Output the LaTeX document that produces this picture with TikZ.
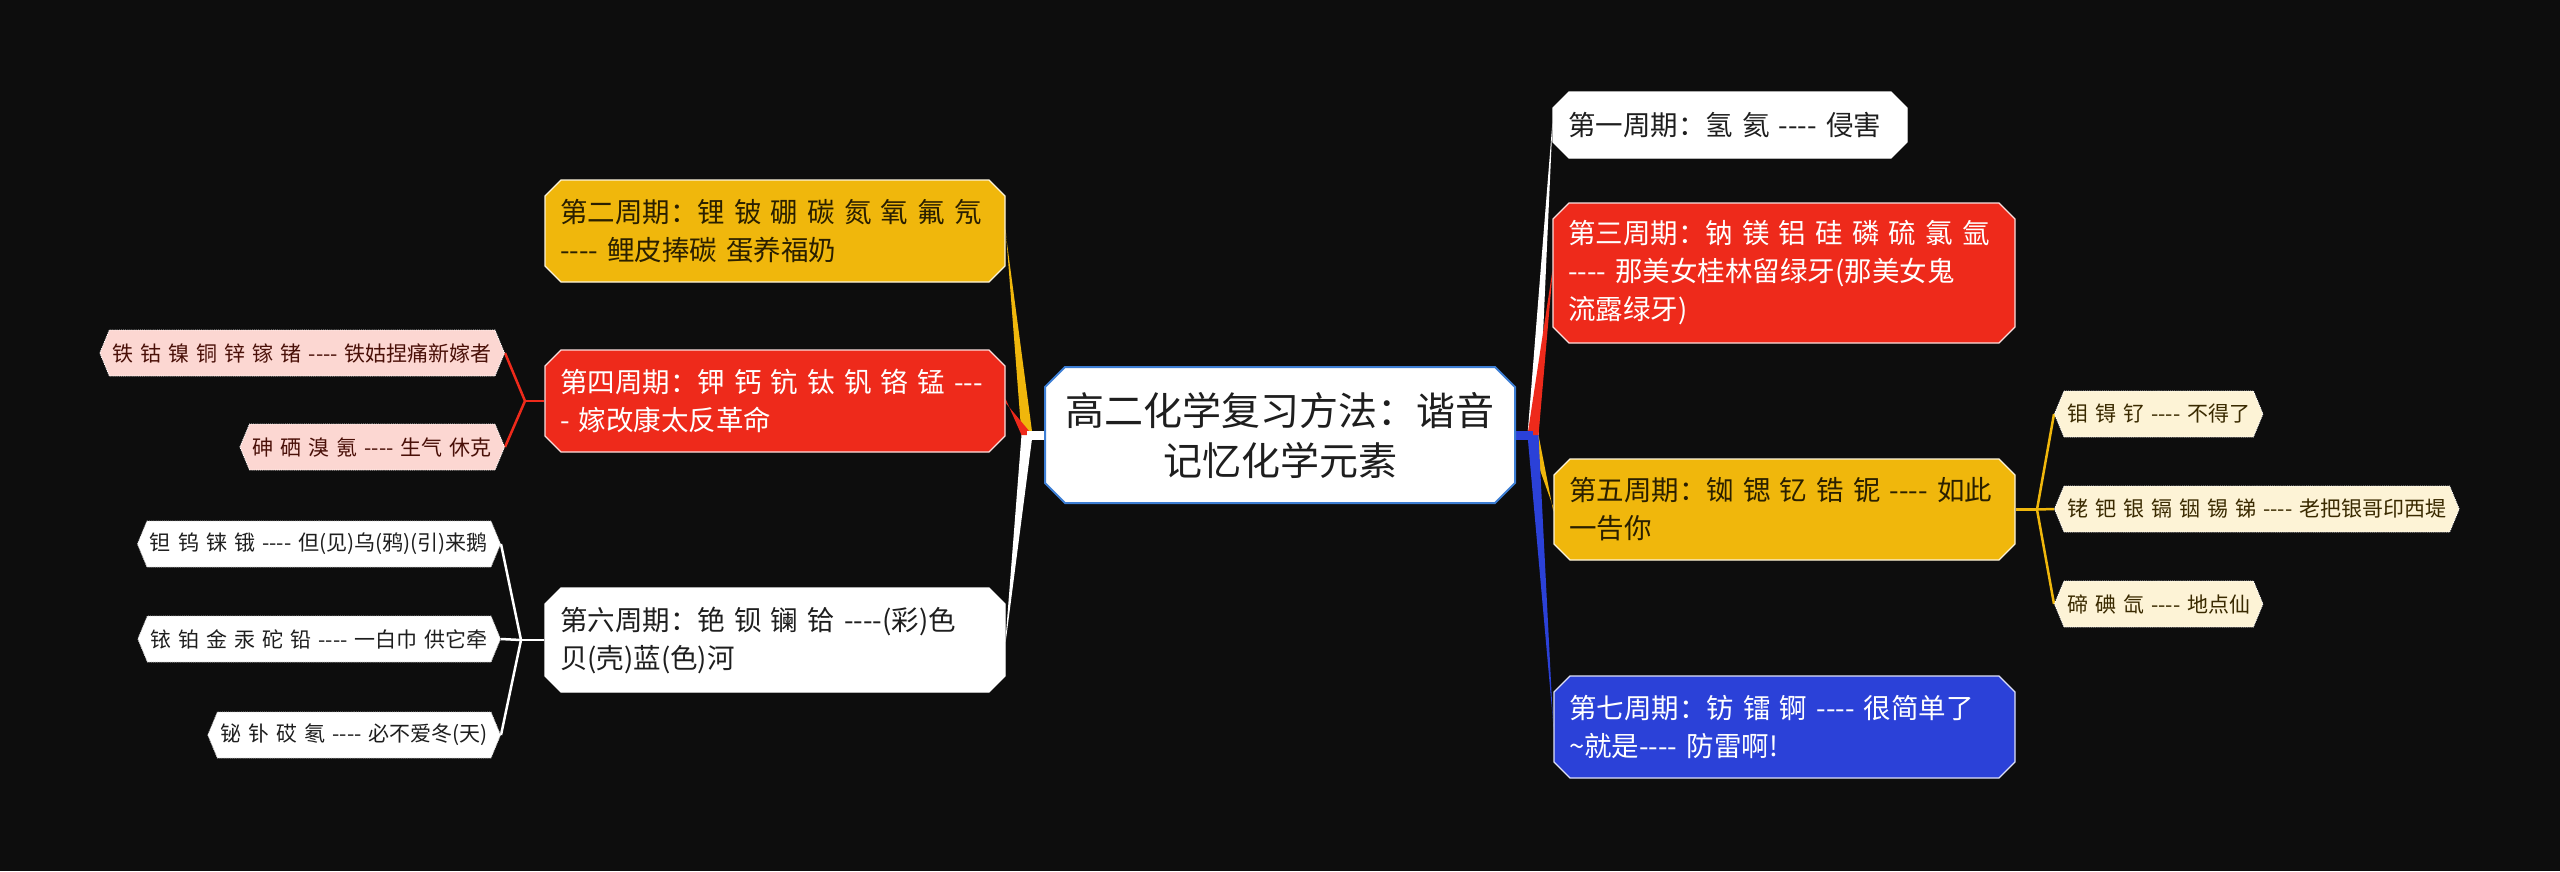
\documentclass[tikz,border=0pt]{standalone}
\usepackage{fontspec}
\setmainfont[WordSpace=1.5,Ligatures=TeXOff]{Noto Sans CJK SC}
\usetikzlibrary{shapes.misc,shapes.symbols,calc,backgrounds}

\definecolor{bg}{HTML}{0D0D0D}
\definecolor{cY}{HTML}{F0B70C}
\definecolor{cR}{HTML}{EE2A1B}
\definecolor{cB}{HTML}{2B41D8}
\definecolor{cC}{HTML}{3D7ED4}
\definecolor{pinkF}{HTML}{FCD7D2}
\definecolor{pinkT}{HTML}{4A1008}
\definecolor{creamF}{HTML}{FDF3D6}
\definecolor{creamT}{HTML}{3A2A00}
\definecolor{darkT}{HTML}{1E1E1E}
\definecolor{yelT}{HTML}{2A1F00}

\newcommand\oneline[1]{\mbox{#1}}
\newcommand\taperline[3]{\fill[#1] ($(#2)+(-5.5,0)$) -- ($(#3)+(0,-2)$) -- ($(#3)+(0,2)$) -- ($(#2)+(5.5,0)$) -- cycle;}

\begin{document}
\begin{tikzpicture}[x=1pt,y=-1pt,
  lvone/.style={chamfered rectangle, chamfered rectangle xsep=8pt, chamfered rectangle ysep=8pt,
    draw=white!85!#1, fill=#1, line width=1.3pt, inner xsep=7pt, inner ysep=0pt,
    align=left, font=\fontsize{27.5}{38}\selectfont},
  lvtwo/.style={signal, signal to=east and west, signal pointer angle=135,
    inner xsep=3pt, inner ysep=0pt, minimum height=46pt, line width=0.9pt,
    font=\fontsize{21}{25}\selectfont},
  pinkbox/.style={lvtwo, fill=pinkF, draw=white, densely dotted, text=pinkT},
  creambox/.style={lvtwo, fill=creamF, draw=white, densely dotted, text=creamT},
  whitebox/.style={lvtwo, fill=white, draw=white!80!black, densely dotted, text=darkT},
  thinR/.style={draw=cR, line width=2.5pt},
  thinW/.style={draw=white, line width=2.5pt},
  thinY/.style={draw=cY, line width=2.5pt},
]
\useasboundingbox (0,0) rectangle (2560,871);

% central
\node[chamfered rectangle, chamfered rectangle xsep=10pt, chamfered rectangle ysep=10pt,
  fill=white, draw=cC, line width=2pt, minimum width=450pt, minimum height=136pt,
  inner xsep=2pt, inner ysep=0pt, text width=446pt, align=center, text=darkT,
  font=\fontsize{39}{50}\selectfont] (root) at (1280,435)
  {\oneline{高二化学复习方法：谐音}\\\oneline{记忆化学元素}};

% left level one
\node[lvone=cY, text=yelT, minimum width=444pt, minimum height=102pt, text width=430pt] (n2) at (775,231)
  {\oneline{第二周期：锂 铍 硼 碳 氮 氧 氟 氖}\\\oneline{---- 鲤皮捧碳 蛋养福奶}};
\node[lvone=cR, text=white, minimum width=444pt, minimum height=102pt, text width=430pt] (n4) at (775,401)
  {\oneline{第四周期：钾 钙 钪 钛 钒 铬 锰 ---}\\\oneline{- 嫁改康太反革命}};
\node[lvone=white, text=darkT, minimum width=444pt, minimum height=104pt, text width=430pt] (n6) at (775,640)
  {\oneline{第六周期：铯 钡 镧 铪 ----(彩)色}\\\oneline{贝(壳)蓝(色)河}};

% right level one
\node[lvone=white, text=darkT, minimum width=338pt, minimum height=66pt, text width=324pt] (n1) at (1730,125)
  {\oneline{第一周期：氢 氦 ---- 侵害}};
\node[lvone=cR, text=white, minimum width=446pt, minimum height=140pt, text width=432pt] (n3) at (1784,273)
  {\oneline{第三周期：钠 镁 铝 硅 磷 硫 氯 氩}\\\oneline{---- 那美女桂林留绿牙(那美女鬼}\\\oneline{流露绿牙)}};
\node[lvone=cY, text=yelT, minimum width=445pt, minimum height=101pt, text width=431pt] (n5) at (1784.5,509.5)
  {\oneline{第五周期：铷 锶 钇 锆 铌 ---- 如此}\\\oneline{一告你}};
\node[lvone=cB, text=white, minimum width=445pt, minimum height=102pt, text width=431pt] (n7) at (1784.5,727)
  {\oneline{第七周期：钫 镭 锕 ---- 很简单了}\\\oneline{\textasciitilde 就是---- 防雷啊!}};

% level two left
\node[pinkbox, anchor=east] (c41) at (505,353) {铁 钴 镍 铜 锌 镓 锗 ---- 铁姑捏痛新嫁者};
\node[pinkbox, anchor=east] (c42) at (505,447) {砷 硒 溴 氪 ---- 生气 休克};
\node[whitebox, anchor=east] (c61) at (501,544) {钽 钨 铼 锇 ---- 但(见)乌(鸦)(引)来鹅};
\node[whitebox, anchor=east] (c62) at (501,639) {铱 铂 金 汞 砣 铅 ---- 一白巾 供它牵};
\node[whitebox, anchor=east] (c63) at (501,735) {铋 钋 砹 氡 ---- 必不爱冬(天)};

% level two right
\node[creambox, anchor=west] (c51) at (2054,414) {钼 锝 钌 ---- 不得了};
\node[creambox, anchor=west] (c52) at (2054,509) {铑 钯 银 镉 铟 锡 锑 ---- 老把银哥印西堤};
\node[creambox, anchor=west] (c53) at (2054,604) {碲 碘 氙 ---- 地点仙};

% junctions
\coordinate (jl) at (1027,435);
\coordinate (jr) at (1533,435);
\coordinate (j4) at (525,401);
\coordinate (j6) at (521,640);
\coordinate (j5) at (2037,509.5);

\begin{pgfonlayer}{background}
\fill[bg] (0,0) rectangle (2560,871);
% main tapered connectors
\taperline{cY}{jl}{n2.east}
\taperline{white}{jl}{n6.east}
\taperline{cR}{jl}{n4.east}
\fill[white] ($(root.west)+(0,-4.5)$) rectangle ($(jl)+(0,4.5)$);
\taperline{white}{jr}{n1.west}
\taperline{cY}{jr}{n5.west}
\taperline{cB}{jr}{n7.west}
\taperline{cR}{jr}{n3.west}
\fill[cB] ($(root.east)+(0,-4.5)$) rectangle ($(jr)+(0,4.5)$);
% level two connectors
\draw[thinR] (n4.west) -- (j4);
\draw[thinR] (j4) -- (c41.east);
\draw[thinR] (j4) -- (c42.east);
\draw[thinW] (n6.west) -- (j6);
\draw[thinW] (j6) -- (c61.east);
\draw[thinW] (j6) -- (c62.east);
\draw[thinW] (j6) -- (c63.east);
\draw[thinY] (n5.east) -- (j5);
\draw[thinY] (j5) -- (c51.west);
\draw[thinY] (j5) -- (c52.west);
\draw[thinY] (j5) -- (c53.west);
\end{pgfonlayer}
\end{tikzpicture}
\end{document}
